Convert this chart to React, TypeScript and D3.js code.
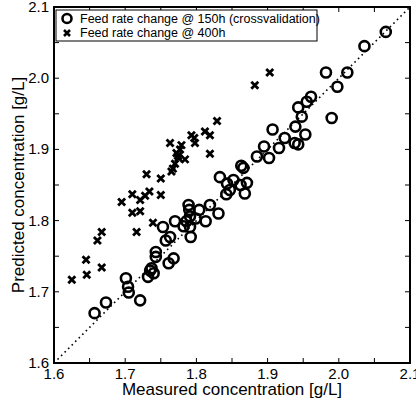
import React, { useRef, useEffect } from 'react';
import * as d3 from 'd3';

// crossvalidation @ 150h: [measured, predicted]
const cvMeasured = [1.657, 1.673, 1.701, 1.704, 1.705, 1.721, 1.732, 1.735, 1.737, 1.740, 1.743, 1.743, 1.757, 1.761, 1.768, 1.753, 1.763, 1.770, 1.782, 1.786, 1.789, 1.790, 1.791, 1.791, 1.792, 1.799, 1.804, 1.813, 1.819, 1.831, 1.833, 1.843, 1.852, 1.847, 1.842, 1.862, 1.863, 1.866, 1.871, 1.868, 1.885, 1.902, 1.895, 1.916, 1.907, 1.924, 1.939, 1.938, 1.943, 1.953, 1.943, 1.948, 1.955, 1.961, 1.990, 1.982, 1.998, 2.012, 2.036, 2.066];
const cvPredicted = [1.670, 1.685, 1.719, 1.707, 1.699, 1.688, 1.721, 1.730, 1.733, 1.726, 1.756, 1.749, 1.772, 1.740, 1.747, 1.791, 1.777, 1.799, 1.792, 1.799, 1.822, 1.815, 1.806, 1.791, 1.777, 1.803, 1.815, 1.799, 1.822, 1.810, 1.861, 1.852, 1.857, 1.843, 1.837, 1.850, 1.877, 1.874, 1.853, 1.838, 1.890, 1.888, 1.904, 1.902, 1.928, 1.916, 1.932, 1.909, 1.907, 1.921, 1.959, 1.946, 1.967, 1.974, 1.944, 2.008, 1.988, 2.008, 2.045, 2.065];

// feed rate change @ 400h
const fcMeasured = [1.625, 1.646, 1.645, 1.667, 1.661, 1.667, 1.695, 1.710, 1.721, 1.710, 1.721, 1.716, 1.734, 1.728, 1.730, 1.750, 1.750, 1.739, 1.767, 1.765, 1.763, 1.779, 1.772, 1.775, 1.784, 1.777, 1.793, 1.798, 1.797, 1.812, 1.819, 1.819, 1.829, 1.882, 1.903, 1.770, 1.774];
const fcPredicted = [1.717, 1.724, 1.745, 1.734, 1.772, 1.784, 1.826, 1.837, 1.829, 1.811, 1.813, 1.784, 1.841, 1.835, 1.865, 1.859, 1.836, 1.797, 1.873, 1.869, 1.909, 1.906, 1.895, 1.888, 1.886, 1.900, 1.920, 1.909, 1.916, 1.925, 1.920, 1.894, 1.940, 1.990, 2.008, 1.880, 1.891];

const axisTicks = [1.6, 1.7, 1.8, 1.9, 2.0, 2.1];
const minorTicks = d3.range(0, 11).map(i => 1.6 + i * 0.05);
const legendLabels = ['Feed rate change @ 150h (crossvalidation)', 'Feed rate change @ 400h'];

const App = () => {
  const svgRef = useRef(null);

  useEffect(() => {
    const width = 416;
    const height = 403;
    const margin = { top: 7, right: 6, bottom: 40, left: 54 };
    const font = 'Liberation Sans, Arial, Helvetica, sans-serif';

    const svg = d3.select(svgRef.current)
      .attr('width', width)
      .attr('height', height);
    svg.selectAll('*').remove();

    const x = d3.scaleLinear().domain([1.6, 2.1]).range([margin.left, width - margin.right]);
    const y = d3.scaleLinear().domain([1.6, 2.1]).range([height - margin.bottom, margin.top]);

    const [x0, x1] = x.range();
    const [y0, y1] = y.range();

    // diagonal
    svg.append('line')
      .attr('x1', x(1.6)).attr('y1', y(1.6))
      .attr('x2', x(2.1)).attr('y2', y(2.1))
      .attr('stroke', '#000')
      .attr('stroke-width', 1.6)
      .attr('stroke-dasharray', '1.6,3.4');

    // circles
    const cv = cvMeasured.map((m, i) => [m, cvPredicted[i]]);
    svg.append('g').selectAll('circle')
      .data(cv)
      .enter().append('circle')
      .attr('cx', d => x(d[0]))
      .attr('cy', d => y(d[1]))
      .attr('r', 5)
      .attr('fill', 'none')
      .attr('stroke', '#000')
      .attr('stroke-width', 2.6);

    // crosses
    const cross = (cx, cy, s) => `M${cx - s},${cy - s}L${cx + s},${cy + s}M${cx - s},${cy + s}L${cx + s},${cy - s}`;
    const fc = fcMeasured.map((m, i) => [m, fcPredicted[i]]);
    svg.append('g').selectAll('path')
      .data(fc)
      .enter().append('path')
      .attr('d', d => cross(x(d[0]), y(d[1]), 3.5))
      .attr('stroke', '#000')
      .attr('stroke-width', 2.8)
      .attr('fill', 'none');

    // ticks (inward, all four sides)
    const tickLen = 5;
    const ticks = svg.append('g').attr('stroke', '#000').attr('stroke-width', 1);
    minorTicks.forEach(t => {
      ticks.append('line').attr('x1', x(t)).attr('x2', x(t)).attr('y1', y0).attr('y2', y0 - tickLen);
      ticks.append('line').attr('x1', x(t)).attr('x2', x(t)).attr('y1', y1).attr('y2', y1 + tickLen);
      ticks.append('line').attr('y1', y(t)).attr('y2', y(t)).attr('x1', x0).attr('x2', x0 + tickLen);
      ticks.append('line').attr('y1', y(t)).attr('y2', y(t)).attr('x1', x1).attr('x2', x1 - tickLen);
    });

    // frame
    svg.append('rect')
      .attr('x', x0).attr('y', y1)
      .attr('width', x1 - x0).attr('height', y0 - y1)
      .attr('fill', 'none')
      .attr('stroke', '#000')
      .attr('stroke-width', 2);

    // tick labels
    const fmt = d3.format('.1f');
    svg.append('g').selectAll('text')
      .data(axisTicks)
      .enter().append('text')
      .attr('x', d => x(d))
      .attr('y', y0 + 16)
      .attr('text-anchor', 'middle')
      .style('font-family', font)
      .style('font-size', '15px')
      .text(d => fmt(d));

    svg.append('g').selectAll('text')
      .data(axisTicks)
      .enter().append('text')
      .attr('x', x0 - 5)
      .attr('y', d => y(d) + 5)
      .attr('text-anchor', 'end')
      .style('font-family', font)
      .style('font-size', '15px')
      .text(d => fmt(d));

    // axis labels
    svg.append('text')
      .attr('x', (x0 + x1) / 2)
      .attr('y', height - 8)
      .attr('text-anchor', 'middle')
      .style('font-family', font)
      .style('font-size', '17px')
      .text('Measured concentration [g/L]');

    svg.append('text')
      .attr('transform', `translate(24,${(y0 + y1) / 2}) rotate(-90)`)
      .attr('text-anchor', 'middle')
      .style('font-family', font)
      .style('font-size', '17px')
      .text('Predicted concentration [g/L]');

    // legend
    const lg = svg.append('g');
    lg.append('rect')
      .attr('x', 56).attr('y', 10)
      .attr('width', 261).attr('height', 31)
      .attr('fill', '#fff')
      .attr('stroke', '#000')
      .attr('stroke-width', 1);
    lg.append('circle')
      .attr('cx', 67).attr('cy', 18.5).attr('r', 4.5)
      .attr('fill', 'none').attr('stroke', '#000').attr('stroke-width', 2.6);
    lg.append('path')
      .attr('d', cross(67, 33, 3))
      .attr('stroke', '#000').attr('stroke-width', 2.6);
    legendLabels.forEach((t, i) => {
      lg.append('text')
        .attr('x', 80)
        .attr('y', 22.5 + i * 14)
        .style('font-family', font)
        .style('font-size', '12.5px')
        .text(t);
    });
  }, []);

  return (
    <svg ref={svgRef} style={{ position: 'absolute', left: 0, top: 0, display: 'block' }}></svg>
  );
};

export default App;
